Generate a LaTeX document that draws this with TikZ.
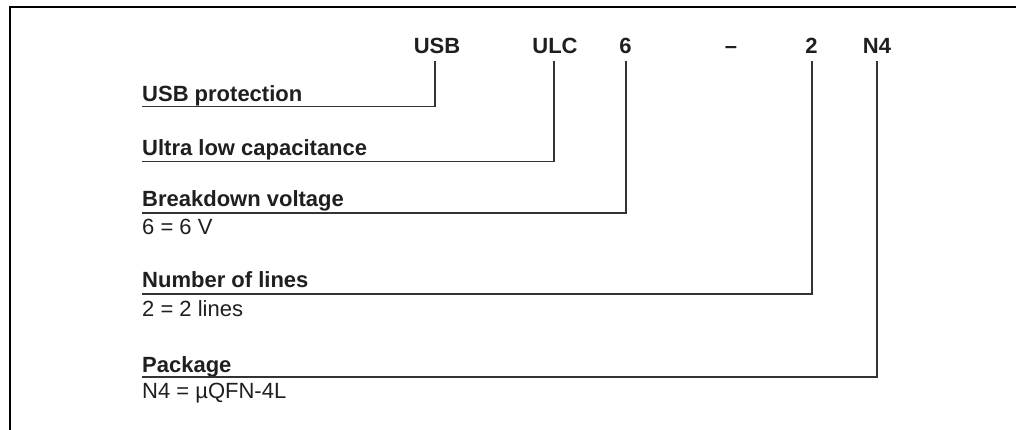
\documentclass[tikz,border=0pt]{standalone}
\usepackage{fontspec}
\setmainfont{Liberation Sans}
\begin{document}
\begin{tikzpicture}[x=1pt,y=-1pt,
  code/.style={anchor=base,inner sep=0pt,font=\fontsize{22}{26}\selectfont\bfseries,text=black!88},
  lbl/.style={anchor=base west,inner sep=0pt,font=\fontsize{22}{26}\selectfont\bfseries,text=black!88},
  val/.style={anchor=base west,inner sep=0pt,font=\fontsize{22}{26}\selectfont,text=black!88},
  conn/.style={draw=black!80,line width=1.3pt},
  frame/.style={draw=black,line width=2pt}]
\useasboundingbox (0,0) rectangle (1016,430);
% frame (cropped)
\coordinate (ftr) at (1016,7.5);
\coordinate (ftl) at (10,7.5);
\coordinate (fbl) at (10,430);
\draw[frame] (ftr) -- (ftl) -- (fbl);
% code letters
\node[code] (usb) at (437,54) {USB};
\node[code] (ulc) at (555,54) {ULC};
\node[code] (six) at (625.5,54) {6};
\node[code] (dash) at (731,54) {–};
\node[code] (two) at (811.5,54) {2};
\node[code] (nf) at (877,54) {N4};
% tick tops
\coordinate (tusb) at (435,61);
\coordinate (tulc) at (554,61);
\coordinate (tsix) at (626,61);
\coordinate (ttwo) at (812,61);
\coordinate (tnf) at (877,61);
% labels
\node[lbl] (a) at (142,102) {USB protection};
\node[lbl] (b) at (142,156) {Ultra low capacitance};
\node[lbl] (c) at (142,207) {Breakdown voltage};
\node[val] (cv) at (142,235) {6 = 6 V};
\node[lbl] (d) at (142,287) {Number of lines};
\node[val] (dv) at (142,316) {2 = 2 lines};
\node[lbl] (e) at (142,372) {Package};
\node[val] (ev) at (142,398) {N4 = µQFN-4L};
% left ends of the underline connectors
\coordinate (la) at (142,106.5);
\coordinate (lb) at (142,161.5);
\coordinate (lc) at (142,213);
\coordinate (ld) at (142,294);
\coordinate (le) at (142,377);
\draw[conn] (la) -| (tusb);
\draw[conn] (lb) -| (tulc);
\draw[conn] (lc) -| (tsix);
\draw[conn] (ld) -| (ttwo);
\draw[conn] (le) -| (tnf);
\end{tikzpicture}
\end{document}
